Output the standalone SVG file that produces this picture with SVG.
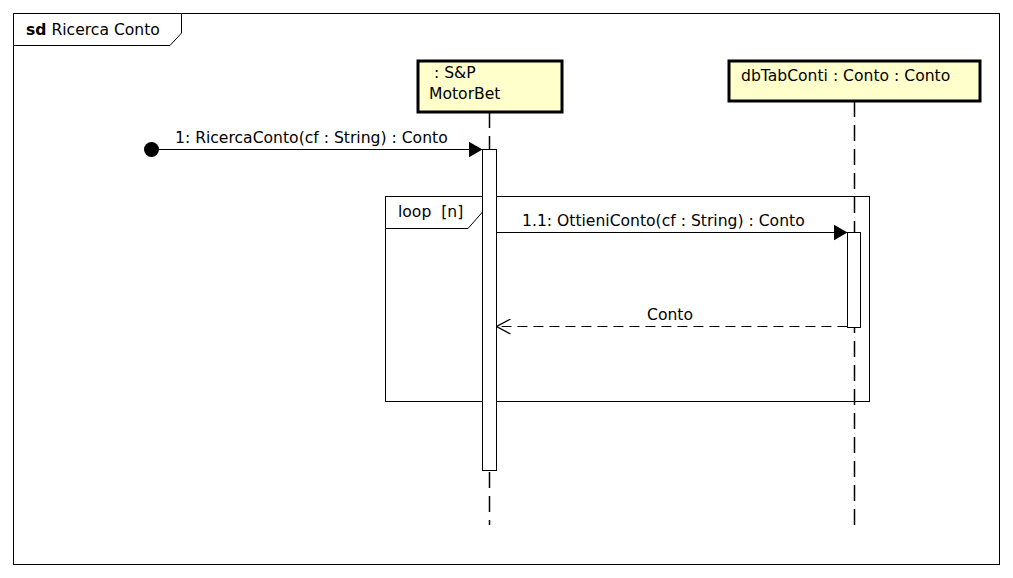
<svg xmlns="http://www.w3.org/2000/svg" width="1013" height="578" viewBox="0 0 1013 578">
<style>
text{font-family:"DejaVu Sans",sans-serif;font-size:15.6px;fill:#000;white-space:pre}
.frame{fill:#fff;stroke:#000;stroke-width:1}
.head{fill:#ffffcc;stroke:#000;stroke-width:3}
.life{stroke:#000;stroke-width:1.5;stroke-dasharray:16 8;fill:none}
.act{fill:#fff;stroke:#000;stroke-width:1}
.msg{stroke:#000;stroke-width:1.2;fill:none}
.ret{stroke:#000;stroke-width:1.2;fill:none;stroke-dasharray:10 6}
</style>
<defs>
<marker id="filled" viewBox="0 0 14 16" refX="14" refY="8" markerWidth="14" markerHeight="16" markerUnits="userSpaceOnUse" orient="auto">
<path d="M0,0 L14,8 L0,16 Z" fill="#000"/>
</marker>
<marker id="open" viewBox="0 0 14 16" refX="14" refY="8" markerWidth="14" markerHeight="16" markerUnits="userSpaceOnUse" orient="auto">
<path d="M0,0.5 L14,8 L0,15.5" fill="none" stroke="#000" stroke-width="1.2"/>
</marker>
</defs>
<rect width="1013" height="578" fill="#fff"/>
<g id="frame">
<rect class="frame" x="13.5" y="13.5" width="986" height="551"/>
<path class="frame" d="M13.5,13.5 H181.5 V33 L170,45.5 H13.5 Z"/>
<text x="26" y="35" xml:space="preserve"><tspan font-weight="bold">sd</tspan> Ricerca Conto</text>
</g>
<g id="loop">
<rect x="385.5" y="196.5" width="484" height="205" fill="none" stroke="#000" stroke-width="1"/>
<path d="M385.5,196.5 H482.5 V212 L468,228.5 H385.5 Z" fill="#fff" stroke="#000" stroke-width="1"/>
<text x="398" y="217" xml:space="preserve">loop  [n]</text>
</g>
<g id="lifeline-motorbet">
<line class="life" x1="489.5" y1="112" x2="489.5" y2="525"/>
<rect class="head" x="418" y="61" width="144" height="51"/>
<text x="434" y="78">: S&amp;P</text>
<text x="429" y="99">MotorBet</text>
<rect class="act" x="482.5" y="149.5" width="14" height="321"/>
</g>
<g id="lifeline-dbtabconti">
<line class="life" x1="854.5" y1="101" x2="854.5" y2="525"/>
<rect class="head" x="729" y="61" width="251" height="40"/>
<text x="741" y="81">dbTabConti : Conto : Conto</text>
<rect class="act" x="847.5" y="232.5" width="13" height="95"/>
</g>
<g id="connectors">
<circle cx="151.5" cy="149.5" r="7.5" fill="#000"/>
<line class="msg" x1="151.5" y1="149.5" x2="482.5" y2="149.5" marker-end="url(#filled)"/>
<text x="175" y="143">1: RicercaConto(cf : String) : Conto</text>
<line class="msg" x1="496.5" y1="232.5" x2="847.5" y2="232.5" marker-end="url(#filled)"/>
<text x="522" y="226">1.1: OttieniConto(cf : String) : Conto</text>
<line class="ret" x1="847.5" y1="326.5" x2="496.5" y2="326.5" marker-end="url(#open)"/>
<text x="647" y="320">Conto</text>
</g>
</svg>
